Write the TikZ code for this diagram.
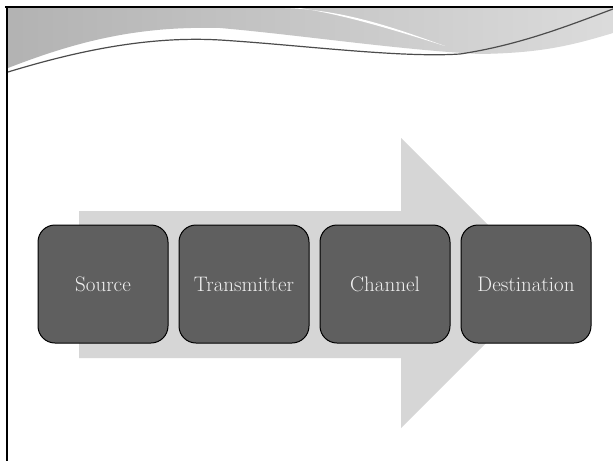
\documentclass[tikz,border=0pt]{standalone}
\usepackage{fontspec}
\usetikzlibrary{positioning, calc}
\definecolor{boxgray}{HTML}{5F5F5F}
\definecolor{arrowgray}{HTML}{D6D6D6}
\tikzset{stage/.style={draw=black, line width=1pt, fill=boxgray, rounded corners=17pt, minimum width=130pt, minimum height=118pt, inner sep=0pt, text=white!94!black, font=\fontsize{21}{24}\selectfont}}
\begin{document}
\begin{tikzpicture}[x=1pt, y=-1pt]
        \useasboundingbox (0,0) rectangle (613,461);
        \fill[white] (0,0) rectangle (613,461);
        \shade[left color=black!30, right color=black!14] (8,8) -- (613,8) -- (613,33) .. controls (570,46) and (540,53) .. (480,54) .. controls (400,50) and (300,35) .. (220,28) .. controls (140,26) and (80,40) .. (8,68) -- cycle;
        \fill[white] (285,8) .. controls (345,10) and (395,28) .. (445,46) .. controls (400,32) and (350,16) .. (300,8) -- cycle;
        \draw[black!70, line width=1.2pt] (8,72) .. controls (80,50) and (150,36) .. (220,40) .. controls (300,45) and (400,58) .. (460,54) .. controls (520,45) and (570,25) .. (613,9);
        \draw[line width=2pt] (5,7) -- (613,7);
        \draw[line width=2pt] (7,6) -- (7,461);
        \fill[arrowgray] (79,211) -- (401,211) -- (401,138) -- (546,283) -- (401,428) -- (401,358) -- (79,358) -- cycle;
        \node[stage] (src) at (103,284) {Source};
        \node[stage, right=10pt of src] (tx) {Transmitter};
        \node[stage, right=10pt of tx] (chan) {Channel};
        \node[stage, right=10pt of chan] (dest) {Destination};
    \end{tikzpicture}
\end{document}
